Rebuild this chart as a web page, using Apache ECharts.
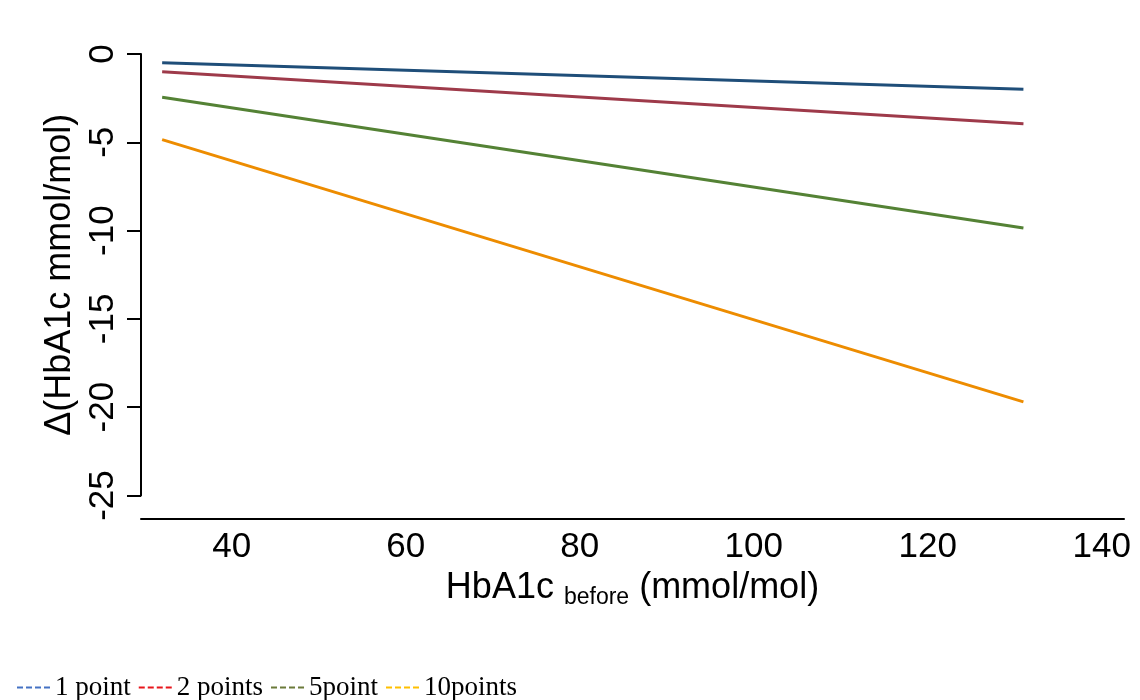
<!DOCTYPE html>
<html>
<head>
<meta charset="utf-8">
<script src="https://cdn.jsdelivr.net/npm/echarts@6/dist/echarts.min.js"></script>
<style>
  html, body { margin: 0; padding: 0; background: #ffffff; }
  #chart { width: 1140px; height: 700px; }
</style>
</head>
<body>
<div id="chart"></div>
<script>
// HbA1c before treatment (mmol/mol): line end points
const hba1cBefore = [32, 131];

// Change in HbA1c (mmol/mol) for each score step
const onePoint  = [-0.5, -2.0];
const twoPoints = [-1.0, -3.95];
const fivePoint = [-2.45, -9.85];
const tenPoints = [-4.85, -19.7];

const seriesNames = ['1 point', '2 points', '5point', '10points'];
const xTickValues = [40, 60, 80, 100, 120, 140];
const yTickValues = [0, -5, -10, -15, -20, -25];

const lineColors   = ['#1f4e79', '#9e3a4a', '#548235', '#ed8c00'];
const legendColors = ['#4472c4', '#e8151b', '#6b7a3a', '#ffc000'];

const seriesValues = [onePoint, twoPoints, fivePoint, tenPoints];

const X_MIN = 29.57, X_MAX = 142.56;
const sansFont = 'Liberation Sans, Arial, sans-serif';

const chart = echarts.init(document.getElementById('chart'), null, { renderer: 'canvas' });

chart.setOption({
  animation: false,
  backgroundColor: '#ffffff',
  grid: [
    { left: 141, right: 16, top: 54, height: 441.5 },
    { left: 141, right: 16, top: 518, height: 1 }
  ],
  xAxis: [
    {
      gridIndex: 0, type: 'value', min: X_MIN, max: X_MAX, show: false
    },
    {
      gridIndex: 1, type: 'value', min: X_MIN, max: X_MAX,
      axisLine: { show: true, lineStyle: { color: '#000', width: 2 } },
      axisTick: { show: false },
      splitLine: { show: false },
      axisLabel: {
        customValues: xTickValues,
        margin: 11,
        color: '#000',
        fontFamily: sansFont,
        fontSize: 35
      },
      name: 'HbA1c {sub|before} (mmol/mol)',
      nameLocation: 'middle',
      nameGap: 48,
      nameTextStyle: {
        color: '#000',
        fontFamily: sansFont,
        fontSize: 36,
        lineHeight: 42,
        rich: {
          sub: { fontFamily: sansFont, fontSize: 23, color: '#000', verticalAlign: 'bottom', lineHeight: 23 }
        }
      }
    }
  ],
  yAxis: [
    {
      gridIndex: 0, type: 'value', min: yTickValues[yTickValues.length - 1], max: yTickValues[0], interval: 5,
      axisLine: { show: true, lineStyle: { color: '#000', width: 2 } },
      axisTick: { show: true, inside: false, length: 14, lineStyle: { color: '#000', width: 2 } },
      splitLine: { show: false },
      axisLabel: {
        rotate: 90,
        margin: 20,
        color: '#000',
        fontFamily: sansFont,
        fontSize: 35
      },
      name: '\u0394(HbA1c mmol/mol)',
      nameLocation: 'middle',
      nameGap: 63,
      nameRotate: 90,
      nameTextStyle: { color: '#000', fontFamily: sansFont, fontSize: 36 }
    },
    { gridIndex: 1, type: 'value', show: false }
  ],
  legend: {
    left: 12,
    top: 669,
    itemWidth: 33,
    itemHeight: 2,
    itemGap: 8,
    icon: 'path://M0,0h6v2h-6zM9,0h6v2h-6zM18,0h6v2h-6zM27,0h6v2h-6z',
    textStyle: { color: '#000', fontFamily: 'Liberation Serif, Times New Roman, serif', fontSize: 27 },
    data: seriesNames.map((n, i) => ({
      name: n,
      itemStyle: { color: legendColors[i], borderWidth: 0 }
    }))
  },
  series: seriesNames.map((n, i) => ({
    name: n,
    type: 'line',
    xAxisIndex: 0,
    yAxisIndex: 0,
    symbol: 'none',
    lineStyle: { color: lineColors[i], width: 3 },
    itemStyle: { color: lineColors[i] },
    data: hba1cBefore.map((x, j) => [x, seriesValues[i][j]])
  }))
});
</script>
</body>
</html>
